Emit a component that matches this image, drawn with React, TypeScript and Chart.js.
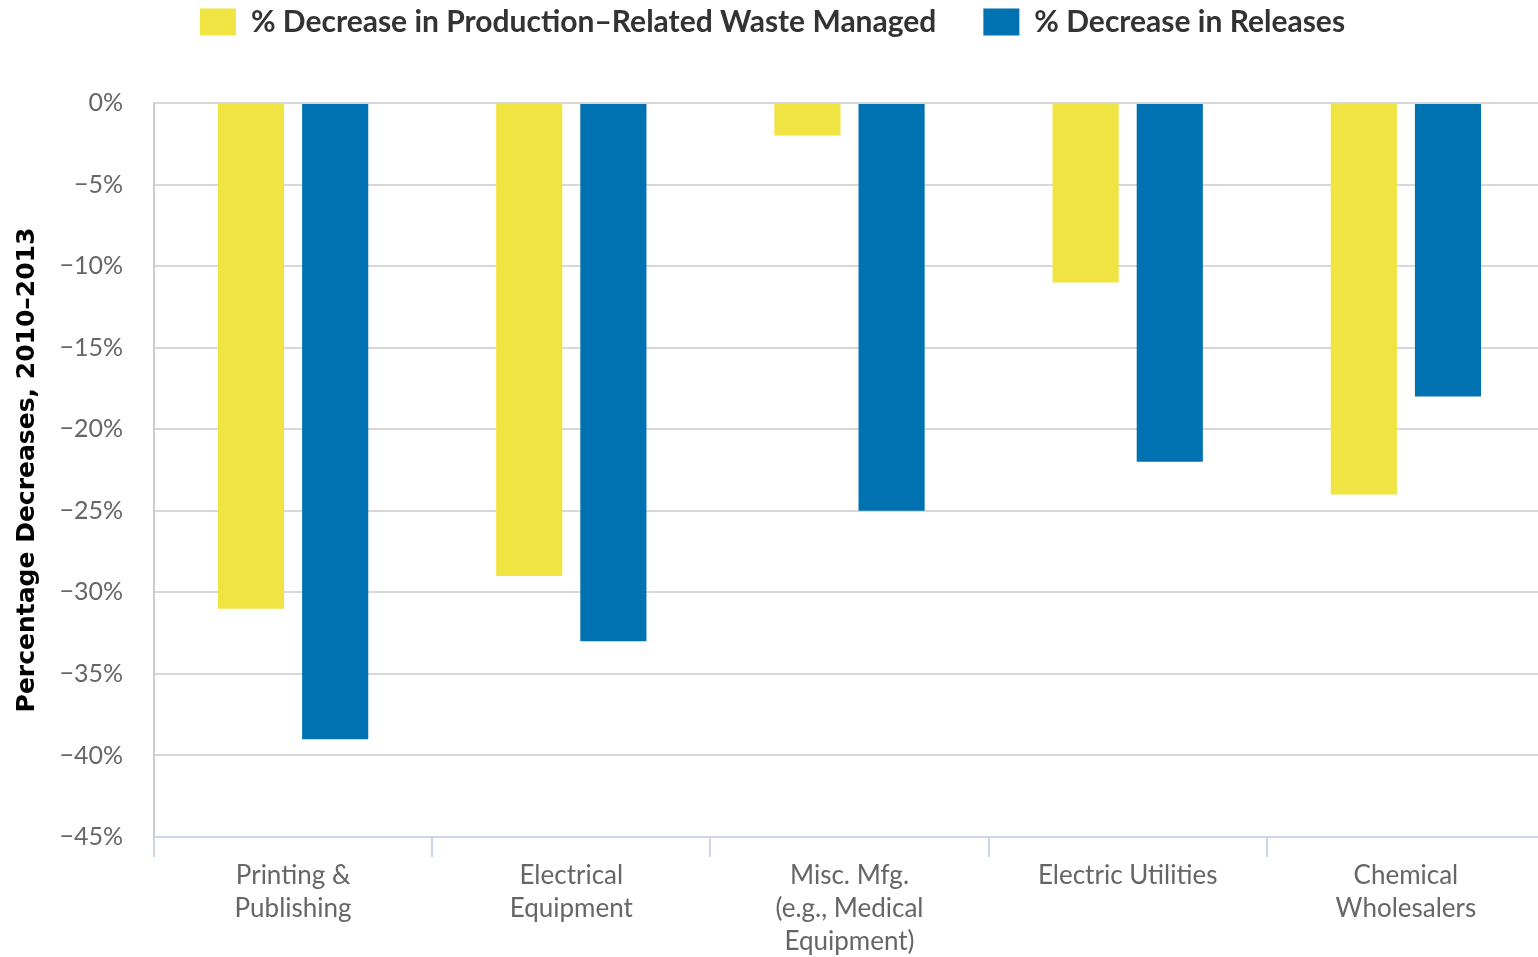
import React, { useEffect, useRef } from "react";
import { Chart, registerables } from "chart.js";

Chart.register(...registerables);

const categories: string[][] = [
  ["Printing &", "Publishing"],
  ["Electrical", "Equipment"],
  ["Misc. Mfg.", "(e.g., Medical", "Equipment)"],
  ["Electric Utilities"],
  ["Chemical", "Wholesalers"],
];
const wasteManaged: number[] = [-31, -29, -2, -11, -24];
const releases: number[] = [-39, -33, -25, -22, -18];
const seriesNames: string[] = [
  "% Decrease in Production\u2013Related Waste Managed",
  "% Decrease in Releases",
];
const yTitle = "Percentage Decreases, 2010\u20132013";
const yMin = -45;
const yMax = 0;
const yStep = 5;

export default function App() {
  const ref = useRef<HTMLCanvasElement | null>(null);
  useEffect(() => {
    if (!ref.current) return;
    const chart = new Chart(ref.current, {
      type: "bar",
      data: {
        labels: categories,
        datasets: [
          {
            label: seriesNames[0],
            data: wasteManaged,
            backgroundColor: "#F0E442",
            categoryPercentage: 0.605,
            barPercentage: 0.786,
          },
          {
            label: seriesNames[1],
            data: releases,
            backgroundColor: "#0072B2",
            categoryPercentage: 0.605,
            barPercentage: 0.786,
          },
        ],
      },
      options: {
        animation: false,
        responsive: false,
        maintainAspectRatio: false,
        layout: { padding: { left: 0, right: 0, top: -40, bottom: 0 } },
        plugins: {
          tooltip: { enabled: false },
          title: {
            display: true,
            text: " ",
            font: { size: 10 },
            padding: { top: 0, bottom: 44 },
          },
          legend: {
            position: "top",
            align: "center",
            weight: 3000,
            labels: {
              boxWidth: 36,
              boxHeight: 27,
              padding: 47,
              color: "#333333",
              font: { family: "Lato", size: 30, weight: "bold" },
            },
          } as any,
        },
        scales: {
          x: {
            grid: {
              offset: true,
              drawOnChartArea: false,
              drawTicks: true,
              tickLength: 20,
              color: "#ccd6eb",
              lineWidth: 2,
            },
            border: { display: true, color: "#ccd6eb", width: 2 },
            ticks: {
              color: "#666666",
              padding: 2,
              maxRotation: 0,
              autoSkip: false,
              font: { family: "Lato", size: 26, lineHeight: 1.27 },
            },
            afterFit: (s: any) => {
              s.height = 120;
            },
          },
          y: {
            min: yMin,
            max: yMax,
            ticks: {
              stepSize: yStep,
              color: "#666666",
              padding: 31,
              font: { family: "Lato", size: 25 },
              callback: (v: any) => (Number(v) < 0 ? "\u2212" + Math.abs(Number(v)) : String(v)) + "%",
            },
            grid: {
              drawTicks: false,
              color: (c: any) => (c.tick && c.tick.value === yMin ? "rgba(0,0,0,0)" : "#d8d8d8"),
              lineWidth: 2,
            },
            border: { display: true, color: "#cccccc", width: 2 },
            title: {
              display: true,
              text: yTitle,
              color: "#000000",
              padding: { top: 12, bottom: 0 },
              font: { family: "DejaVu Sans", size: 25, weight: "bold" },
            },
            afterFit: (s: any) => {
              s.width = 154;
            },
          },
        },
      },
    });
    return () => chart.destroy();
  }, []);
  return (
    <div
      style={{
        position: "absolute",
        left: 0,
        top: 0,
        width: 1538,
        height: 957,
        overflow: "hidden",
        background: "#ffffff",
      }}
    >
      <canvas ref={ref} width={1545} height={957} style={{ display: "block" }} />
    </div>
  );
}
